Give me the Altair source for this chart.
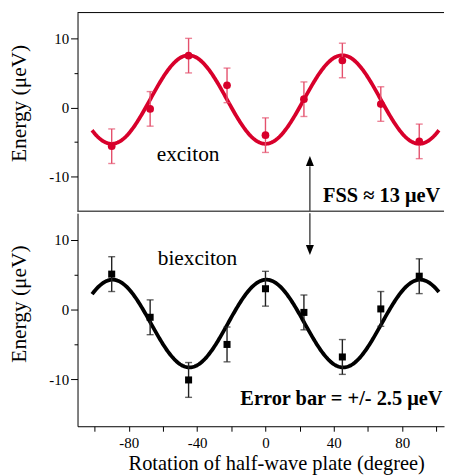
import altair as alt
import pandas as pd

# ---- data ----
angles = [-90, -67.5, -45, -22.5, 0, 22.5, 45, 67.5, 90]
exciton_energy = [-5.6, -0.2, 7.5, 3.2, -4.0, 1.2, 6.8, 0.5, -4.9]
biexciton_energy = [5.1, -1.1, -10.1, -5.0, 3.0, -0.4, -6.8, 0.1, 4.8]
error_bar = [2.5] * 9

# fitted cosine curves E = offset + amp*cos(4*(theta - phase))
exciton_fit = {"offset": 1.15, "amp": -6.4, "phase": 0.0}
biexciton_fit = {"offset": -2.0, "amp": 6.3, "phase": 0.5}
fit_start, fit_stop, fit_step = -101.5, 101.6, 0.5

x_ticks = [-100, -80, -60, -40, -20, 0, 20, 40, 60, 80, 100]
y_ticks = [-10, -5, 0, 5, 10]
x_domain = [-110, 104.5]
top_domain = [-15.0, 13.73]
bot_domain = [-16.75, 13.85]

arrow_x = [26]
# annotation positions in data units
exciton_label = {"text": ["exciton"], "x": [-45.3], "y": [-7.75]}
fss_label = {"text": ["FSS ≈ 13 μeV"], "x": [102.3], "y": [-13.7]}
biexciton_label = {"text": ["biexciton"], "x": [-39.8], "y": [6.34]}
err_label = {"text": ["Error bar = +/- 2.5 μeV"], "x": [103.6], "y": [-13.76]}

RED = "#d8002b"
RED_ERR = "#e4506c"
FONT = "Liberation Serif"
W = 369
H_TOP = 200
H_BOT = 214.5

exc = pd.DataFrame({"theta": angles, "E": exciton_energy, "err": error_bar})
exc["lo"] = exc["E"] - exc["err"]
exc["hi"] = exc["E"] + exc["err"]
bix = pd.DataFrame({"theta": angles, "E": biexciton_energy, "err": error_bar})
bix["lo"] = bix["E"] - bix["err"]
bix["hi"] = bix["E"] + bix["err"]

xscale = alt.Scale(domain=x_domain, nice=False, zero=False)

x_axis = alt.Axis(
    values=x_ticks,
    labelExpr="datum.value % 40 === 0 ? '' + datum.value : ''",
    tickSize=5, tickColor="black", domainColor="black", grid=False,
    labelFont=FONT, labelFontSize=15, labelColor="black", labelPadding=4,
    title="Rotation of half-wave plate (degree)", titleFont=FONT,
    titleFontSize=20.5, titleFontWeight="normal", titleColor="black",
    titleBaseline="alphabetic", titleY=44, titleX=200, titleAlign="center",
)


def y_axis():
    return alt.Axis(
        values=y_ticks,
        labelExpr="datum.value % 10 === 0 ? '' + datum.value : ''",
        tickSize={"condition": {"test": "datum.value % 10 !== 0", "value": 3.5}, "value": 7},
        tickColor="black", domainColor="black", grid=False,
        labelFont=FONT, labelFontSize=15, labelColor="black", labelPadding=2,
        title="Energy (μeV)", titleFont=FONT, titleFontSize=21.5,
        titleFontWeight="normal", titleColor="black",
        titleBaseline="alphabetic", titleX=-52.5, titleY=91, titleAlign="center",
        titleAngle=270,
    )


def make_panel(df, fit, domain, color, err_color, shape, size, show_x):
    yscale = alt.Scale(domain=domain, nice=False, zero=False)
    xa = x_axis if show_x else None
    ya = y_axis()
    X = lambda f: alt.X(f, type="quantitative", scale=xscale, axis=xa)
    Y = lambda f: alt.Y(f, type="quantitative", scale=yscale, axis=ya)

    curve = (
        alt.Chart(alt.sequence(fit_start, fit_stop, fit_step, as_="theta"))
        .transform_calculate(
            E=f"{fit['offset']} + ({fit['amp']})*cos(4*(datum.theta-({fit['phase']}))*PI/180)"
        )
        .mark_line(color=color, strokeWidth=3.8)
        .encode(x=X("theta"), y=Y("E"))
    )
    base = alt.Chart(df)
    bars = base.mark_rule(color=err_color, strokeWidth=1.4).encode(
        x=X("theta"), y=Y("lo"), y2="hi"
    )
    cap_lo = base.mark_tick(orient="horizontal", size=7, thickness=1.4, color=err_color).encode(
        x=X("theta"), y=Y("lo")
    )
    cap_hi = base.mark_tick(orient="horizontal", size=7, thickness=1.4, color=err_color).encode(
        x=X("theta"), y=Y("hi")
    )
    pts = base.mark_point(shape=shape, filled=True, opacity=1, color=color, size=size).encode(
        x=X("theta"), y=Y("E")
    )
    return [curve, bars, cap_lo, cap_hi, pts], X, Y


top_layers, Xt, Yt = make_panel(exc, exciton_fit, top_domain, RED, RED_ERR, "circle", 60, False)
bot_layers, Xb, Yb = make_panel(bix, biexciton_fit, bot_domain, "black", "#222222", "square", 50, True)


def text_layer(d, X, Y, bold, size, align):
    return alt.Chart(pd.DataFrame(d)).mark_text(
        font=FONT, fontSize=size, fontWeight="bold" if bold else "normal",
        align=align, baseline="alphabetic", color="black",
    ).encode(x=X("x"), y=Y("y"), text="text:N")


# arrow (split between both panels)
arrow_top = pd.DataFrame({"x": arrow_x, "y1": [-8.5], "y2": [top_domain[0]], "head": [-7.75]})
arrow_bot = pd.DataFrame({"x": arrow_x, "y1": [bot_domain[1]], "y2": [9.3], "head": [8.57]})
up_path = "M0,-1L-0.8,1L0.8,1Z"
down_path = "M0,1L-0.8,-1L0.8,-1Z"

top_extra = [
    text_layer(exciton_label, Xt, Yt, False, 21.5, "center"),
    text_layer(fss_label, Xt, Yt, True, 20.5, "right"),
    alt.Chart(arrow_top).mark_rule(color="#222222", strokeWidth=1.2).encode(x=Xt("x"), y=Yt("y1"), y2="y2"),
    alt.Chart(arrow_top).mark_point(shape=up_path, filled=True, color="black", opacity=1, size=100).encode(x=Xt("x"), y=Yt("head")),
    alt.Chart(arrow_top).mark_rule(color="black", strokeWidth=1).encode(
        x=alt.value(0), x2=alt.value(W), y=alt.value(0)),
    alt.Chart(arrow_top).mark_rule(color="#555555", strokeWidth=1.6).encode(
        x=alt.value(0), x2=alt.value(W), y=alt.value(H_TOP)),
]
bot_extra = [
    text_layer(biexciton_label, Xb, Yb, False, 21.5, "center"),
    text_layer(err_label, Xb, Yb, True, 20.5, "right"),
    alt.Chart(arrow_bot).mark_rule(color="#222222", strokeWidth=1.2).encode(x=Xb("x"), y=Yb("y1"), y2="y2"),
    alt.Chart(arrow_bot).mark_point(shape=down_path, filled=True, color="black", opacity=1, size=100).encode(x=Xb("x"), y=Yb("head")),
]

top = alt.layer(*top_layers, *top_extra).properties(width=W, height=H_TOP)
bot = alt.layer(*bot_layers, *bot_extra).properties(width=W, height=H_BOT)

chart = (
    alt.vconcat(top, bot, spacing=0)
    .properties(padding={"left": 0, "top": 2, "right": 0, "bottom": 0}, background="white")
    .configure_view(stroke=None)
    .configure_axis(labelFont=FONT, titleFont=FONT)
)

chart.save("out.html", embed_options={"renderer": "svg", "actions": False})
